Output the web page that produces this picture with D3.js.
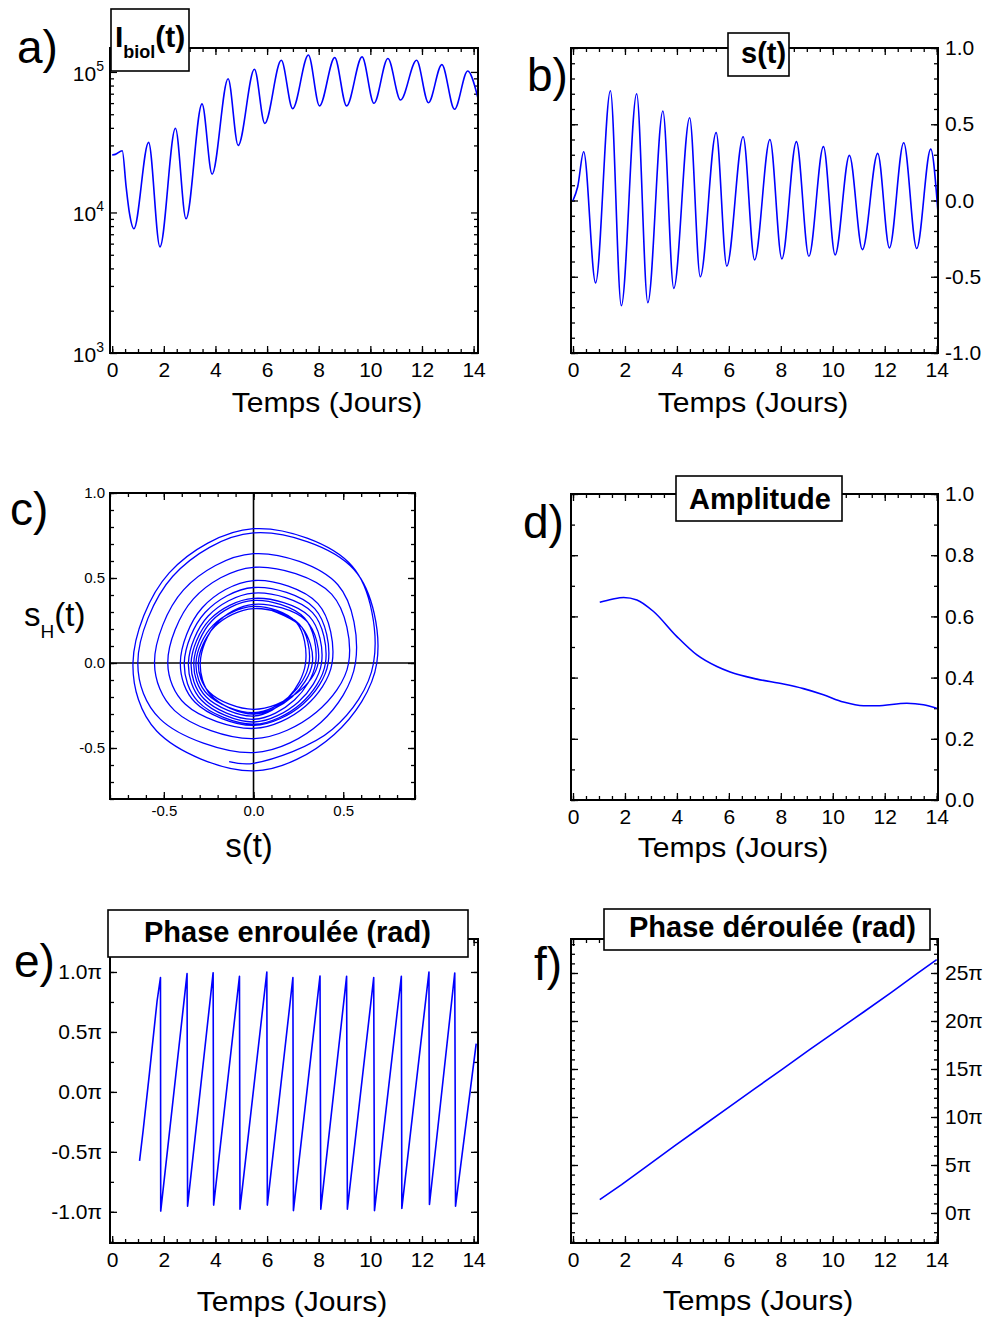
<!DOCTYPE html>
<html><head><meta charset="utf-8">
<script src="https://cdn.jsdelivr.net/npm/d3@7"></script>
<style>body{margin:0;background:#fff}svg{display:block}</style>
</head><body>
<script>
// ---------------- DATA ----------------
const timeMajor = [0, 2, 4, 6, 8, 10, 12, 14];
// a) I_biol(t)  (log scale)
const aTime  = [0, 0.12, 0.39, 0.54, 0.67, 0.84, 1.41, 1.85, 2.45, 2.86, 3.48, 3.87, 4.49, 4.88, 5.51, 5.91, 6.55, 6.99, 7.6, 8.03, 8.62, 9.08, 9.68, 10.14, 10.68, 11.17, 11.79, 12.25, 12.77, 13.26, 13.77, 14.16];
const aValue = [25600, 25900, 27500, 15200, 9840, 7650, 31550, 5690, 39700, 9020, 59200, 18750, 89500, 30000, 104500, 43050, 121000, 54800, 132100, 57300, 126500, 57300, 127900, 59800, 124500, 63100, 121000, 60400, 112700, 54200, 101600, 66100];
const aMajorY = [1e3, 1e4, 1e5];
const aExpLabels = ["3", "4", "5"];
// b) s(t)
const bTime  = [0, 0.18, 0.41, 0.87, 1.44, 1.86, 2.45, 2.88, 3.46, 3.88, 4.49, 4.90, 5.51, 5.92, 6.55, 6.99, 7.58, 8.04, 8.60, 9.08, 9.64, 10.09, 10.64, 11.14, 11.73, 12.18, 12.73, 13.23, 13.77, 14.05];
const bValue = [0, 0.09, 0.32, -0.54, 0.72, -0.69, 0.70, -0.67, 0.587, -0.576, 0.543, -0.50, 0.445, -0.43, 0.418, -0.39, 0.40, -0.383, 0.386, -0.366, 0.353, -0.357, 0.296, -0.322, 0.309, -0.311, 0.379, -0.315, 0.337, -0.08];
const bMajorY = [-1, -0.5, 0, 0.5, 1];
// c) phase portrait s(t) vs s_H(t)
const cS = [-0.136, 0,
  0.44, 0.669, 0.55, 0, -0.47, -0.672, -0.54, 0,
  0.45, 0.687, 0.56, 0, -0.45, -0.645, -0.52, 0,
  0.375, 0.568, 0.47, 0, -0.39, -0.552, -0.44, 0,
  0.35, 0.53, 0.435, 0, -0.335, -0.478, -0.38, 0,
  0.289, 0.438, 0.359, 0, -0.286, -0.408, -0.326, 0,
  0.275, 0.416, 0.341, 0, -0.27, -0.386, -0.309, 0,
  0.265, 0.401, 0.329, 0, -0.254, -0.363, -0.29, 0,
  0.25, 0.379, 0.311, 0, -0.244, -0.348, -0.278, 0,
  0.228, 0.346, 0.284, 0, -0.233, -0.333, -0.266, 0,
  0.191, 0.29, 0.238, 0, -0.225, -0.321, -0.257, 0,
  0.205, 0.31, 0.254, 0, -0.216, -0.308, -0.246, 0,
  0.238, 0.36, 0.295, 0, -0.208, -0.297, -0.238, 0,
  0.216, 0.328, 0.27, 0.10];
const cH = [-0.58, -0.59,
  -0.39, 0, 0.57, 0.79, 0.53, 0, -0.40, -0.635,
  -0.42, 0, 0.55, 0.765, 0.51, 0, -0.33, -0.527,
  -0.35, 0, 0.46, 0.643, 0.43, 0, -0.28, -0.445,
  -0.29, 0, 0.405, 0.563, 0.377, 0, -0.243, -0.385,
  -0.254, 0, 0.349, 0.485, 0.325, 0, -0.231, -0.367,
  -0.242, 0, 0.32, 0.444, 0.297, 0, -0.227, -0.36,
  -0.238, 0, 0.296, 0.411, 0.275, 0, -0.219, -0.347,
  -0.229, 0, 0.274, 0.38, 0.255, 0, -0.209, -0.331,
  -0.218, 0, 0.265, 0.368, 0.247, 0, -0.197, -0.312,
  -0.206, 0, 0.24, 0.333, 0.223, 0, -0.184, -0.292,
  -0.193, 0, 0.23, 0.32, 0.214, 0, -0.172, -0.273,
  -0.18, 0, 0.248, 0.345, 0.231, 0, -0.19, -0.30,
  -0.198, 0, 0.21, 0.31];
const cMajorX = [-0.5, 0, 0.5];
const cMajorY = [-0.5, 0, 0.5, 1.0];
// d) Amplitude
const dTime  = [1.03, 1.5, 1.95, 2.46, 3.1, 4.0, 4.77, 5.54, 6.05, 7.08, 8.1, 8.87, 9.64, 10.41, 11.18, 11.69, 12.85, 13.49, 14.0];
const dValue = [0.646, 0.656, 0.662, 0.654, 0.616, 0.534, 0.474, 0.436, 0.418, 0.395, 0.379, 0.364, 0.344, 0.320, 0.308, 0.308, 0.316, 0.311, 0.300];
const dMajorY = [0, 0.2, 0.4, 0.6, 0.8, 1.0];
// e) wrapped phase (units of pi)
const eTime  = [1.06, 1.2, 1.44, 1.74, 1.87, 1.88, 2.90, 2.92, 3.91, 3.93, 4.93, 4.95, 5.99, 6.01, 7.0, 7.02, 8.05, 8.08, 9.08, 9.11, 10.13, 10.16, 11.2, 11.22, 12.27, 12.29, 13.27, 13.3, 14.1];
const ePhase = [-0.575, -0.32, 0.15, 0.76, 0.953, -0.994, 0.986, -0.953, 0.994, -0.944, 0.964, -0.978, 1.0, -0.944, 0.953, -0.99, 0.967, -0.978, 0.964, -0.978, 0.953, -0.99, 0.964, -0.972, 1.0, -0.939, 0.992, -0.953, 0.403];
const eMajorY = [-1, -0.5, 0, 0.5, 1];
// f) unwrapped phase (units of pi)
const fTime  = [1.03, 1.87, 2.90, 3.91, 4.93, 5.99, 7.0, 8.05, 9.08, 10.13, 11.2, 12.27, 13.27, 14.0];
const fPhase = [1.39, 2.95, 4.99, 6.99, 8.96, 11.0, 12.95, 14.97, 16.96, 18.95, 20.96, 23.0, 24.99, 26.39];
const fMajorY = [0, 5, 10, 15, 20, 25];

// ---------------- DRAWING ----------------
const FONT = '"Liberation Sans", Arial, Helvetica, sans-serif';
const BLUE = "#0000ff";
const svg = d3.select("body").append("svg").attr("width", 986).attr("height", 1322)
  .style("font-family", FONT);

function axis(gen, vals, len, fmt, pad, tr, fs) {
  gen.tickValues(vals).tickSizeInner(-len).tickSizeOuter(0).tickPadding(pad)
     .tickFormat(fmt || (() => ""));
  const g = svg.append("g").attr("transform", tr).call(gen);
  g.select(".domain").remove();
  g.attr("font-family", FONT).attr("font-size", fs || 21);
  g.selectAll(".tick line").attr("stroke-width", 1.3);
  return g;
}

function panel(o) {
  const x = d3.scaleLinear().domain(o.xd).range([o.L, o.R]);
  const y = (o.log ? d3.scaleLog() : d3.scaleLinear()).domain(o.yd).range([o.B, o.T]);
  const fs = o.fs || 21;
  axis(d3.axisBottom(x), o.xMin, 4, null, 0, `translate(0,${o.B})`);
  axis(d3.axisBottom(x), o.xMaj, 7, o.xFmt, o.xPad ?? 9, `translate(0,${o.B})`, fs);
  axis(d3.axisTop(x), o.xMin, 4, null, 0, `translate(0,${o.T})`);
  axis(d3.axisTop(x), o.xMaj, 7, null, 0, `translate(0,${o.T})`);
  axis(d3.axisLeft(y), o.yMin, 4, null, 0, `translate(${o.L},0)`);
  axis(d3.axisLeft(y), o.yMaj, 7, o.side === "left" ? o.yFmt : null, o.yPad ?? 8, `translate(${o.L},0)`, fs);
  axis(d3.axisRight(y), o.yMin, 4, null, 0, `translate(${o.R},0)`);
  axis(d3.axisRight(y), o.yMaj, 7, o.side === "right" ? o.yFmt : null, o.yPad ?? 7, `translate(${o.R},0)`, fs);
  const id = "clip" + o.id;
  svg.append("clipPath").attr("id", id).append("rect")
    .attr("x", o.L).attr("y", o.T).attr("width", o.R - o.L).attr("height", o.B - o.T);
  const plot = svg.append("g").attr("clip-path", `url(#${id})`);
  return { x, y, plot, o };
}
function frame(p) {
  const o = p.o;
  svg.append("rect").attr("x", o.L).attr("y", o.T).attr("width", o.R - o.L).attr("height", o.B - o.T)
    .attr("fill", "none").attr("stroke", "#000").attr("stroke-width", 2);
}
function curve(p, xs, ys, crv) {
  p.plot.append("path").datum(xs.map((t, i) => [t, ys[i]]))
    .attr("d", d3.line().x(d => p.x(d[0])).y(d => p.y(d[1])).curve(crv))
    .attr("fill", "none").attr("stroke", BLUE).attr("stroke-width", 1.6)
    .attr("stroke-linejoin", "round");
}
function titleBox(x, y, w, h) {
  svg.append("rect").attr("x", x).attr("y", y).attr("width", w).attr("height", h)
    .attr("fill", "#fff").attr("stroke", "#000").attr("stroke-width", 1.6);
}
function text(x, y, s, size, opts = {}) {
  return svg.append("text")
    .attr("transform", `translate(${x},${y}) scale(${opts.sx || 1},1)`)
    .attr("font-size", size)
    .attr("font-weight", opts.bold ? "bold" : null)
    .attr("text-anchor", opts.anchor || "start").attr("fill", "#000").text(s);
}
function xTitle(x, y) { text(x, y, "Temps (Jours)", 28, { anchor: "middle", sx: 1.075 }); }

const timeMinor = d3.range(0, 14.01, 0.5);
const f1 = d => d.toFixed(1);
const fmtTime = d => String(d);

// ---- a ----
const A = panel({ id: "a", L: 110, R: 478, T: 48, B: 353, xd: [-0.085, 14.17], yd: [1e3, 1.48e5], log: true,
  xMaj: timeMajor, xMin: timeMinor, xFmt: fmtTime,
  yMaj: aMajorY, yMin: [2,3,4,5,6,7,8,9].flatMap(k => [k * 1e3, k * 1e4]), side: "none" });
curve(A, aTime, aValue, d3.curveMonotoneX);
frame(A);
aMajorY.forEach((v, i) => {
  const t = svg.append("text").attr("x", 104).attr("y", A.y(v) + 9).attr("text-anchor", "end")
    .attr("font-size", 21).attr("fill", "#000");
  t.append("tspan").text("10");
  t.append("tspan").attr("dy", -10).attr("font-size", 14).text(aExpLabels[i]);
});
titleBox(111, 9, 78, 62);
{
  const t = svg.append("text").attr("x", 115).attr("y", 47).attr("font-weight", "bold").attr("font-size", 30).attr("fill", "#000");
  t.append("tspan").text("I");
  t.append("tspan").attr("dy", 11).attr("font-size", 18).text("biol");
  t.append("tspan").attr("dy", -11).text("(t)");
}
xTitle(327, 412);
text(17, 63, "a)", 46);

// ---- b ----
const B = panel({ id: "b", L: 571, R: 938, T: 48, B: 353, xd: [-0.077, 14.05], yd: [-1, 1],
  xMaj: timeMajor, xMin: timeMinor, xFmt: fmtTime,
  yMaj: bMajorY, yMin: d3.range(-1, 1.001, 0.1), side: "right", yFmt: f1 });
curve(B, bTime, bValue, d3.curveMonotoneX);
frame(B);
titleBox(728, 33, 61, 43);
text(741, 63, "s(t)", 29, { bold: true });
xTitle(753, 412);
text(527, 91, "b)", 46);

// ---- c ----
const C = panel({ id: "c", L: 110, R: 415, T: 493, B: 799, xd: [-0.8, 0.9], yd: [-0.8, 1.0],
  xMaj: cMajorX, xMin: d3.range(-0.8, 0.901, 0.1), xFmt: f1, xPad: 6, fs: 15,
  yMaj: cMajorY, yMin: d3.range(-0.8, 1.001, 0.1), side: "left", yFmt: f1, yPad: 5 });
C.plot.append("line").attr("x1", C.x(0)).attr("x2", C.x(0)).attr("y1", 493).attr("y2", 799)
  .attr("stroke", "#000").attr("stroke-width", 1.6);
C.plot.append("line").attr("x1", 110).attr("x2", 415).attr("y1", C.y(0)).attr("y2", C.y(0))
  .attr("stroke", "#000").attr("stroke-width", 1.6);
C.plot.append("path").datum(cS.map((s, i) => [s, cH[i]]))
  .attr("d", d3.line().x(d => C.x(d[0])).y(d => C.y(d[1])).curve(d3.curveCatmullRom.alpha(0.5)))
  .attr("fill", "none").attr("stroke", BLUE).attr("stroke-width", 1.3);
frame(C);
text(249, 857, "s(t)", 33, { anchor: "middle" });
{
  const t = svg.append("text").attr("x", 24).attr("y", 626).attr("font-size", 33).attr("fill", "#000");
  t.append("tspan").text("s");
  t.append("tspan").attr("dy", 12).attr("font-size", 19).text("H");
  t.append("tspan").attr("dy", -12).text("(t)");
}
text(10, 525, "c)", 46);

// ---- d ----
const D = panel({ id: "d", L: 571, R: 938, T: 494, B: 800, xd: [-0.077, 14.05], yd: [0, 1],
  xMaj: timeMajor, xMin: timeMinor, xFmt: fmtTime,
  yMaj: dMajorY, yMin: d3.range(0, 1.001, 0.1), side: "right", yFmt: f1 });
curve(D, dTime, dValue, d3.curveMonotoneX);
frame(D);
titleBox(676, 476, 166, 45);
text(689, 509, "Amplitude", 29, { bold: true });
xTitle(733, 857);
text(523, 538, "d)", 46);

// ---- e ----
const E = panel({ id: "e", L: 110, R: 478, T: 939, B: 1243, xd: [-0.085, 14.17], yd: [-1.26, 1.275],
  xMaj: timeMajor, xMin: timeMinor, xFmt: fmtTime,
  yMaj: eMajorY, yMin: d3.range(-1.25, 1.26, 0.25), side: "left", yFmt: d => d.toFixed(1) + "π" });
curve(E, eTime, ePhase, d3.curveLinear);
frame(E);
titleBox(108, 910, 360, 47);
text(144, 942, "Phase enroulée (rad)", 29, { bold: true });
xTitle(292, 1311);
text(14, 977, "e)", 46);

// ---- f ----
const F = panel({ id: "f", L: 571, R: 938, T: 939, B: 1243, xd: [-0.077, 14.05], yd: [-3.125, 28.54],
  xMaj: timeMajor, xMin: timeMinor, xFmt: fmtTime,
  yMaj: fMajorY, yMin: d3.range(-3, 28.5, 1), side: "right", yFmt: d => d + "π" });
curve(F, fTime, fPhase, d3.curveLinear);
frame(F);
titleBox(604, 909, 326, 41);
text(629, 937, "Phase déroulée (rad)", 29, { bold: true });
xTitle(758, 1310);
text(534, 980, "f)", 46);
</script>
</body></html>
